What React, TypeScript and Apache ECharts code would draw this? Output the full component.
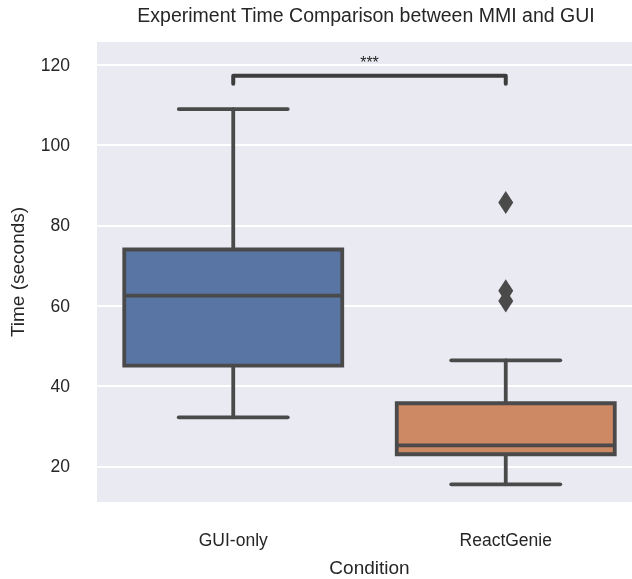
import React, { useEffect, useRef } from "react";
import * as echarts from "echarts";

const categories = ["GUI-only", "ReactGenie"];
// [min whisker, Q1, median, Q3, max whisker]
const boxStats = [
  [32.2, 45.1, 62.5, 74.0, 109.0],
  [15.5, 23.0, 25.2, 35.7, 46.4],
];
const boxColors = ["#5975a4", "#cc8963"];
const outlierCategory = [1, 1, 1];
const outlierValues = [85.7, 63.7, 61.2];
const yTicks = [20, 40, 60, 80, 100, 120];
const bracketY = 117.3;
const bracketTickY = 115.3;
const starsY = 120.6;
const starsText = "***";

const LINE = "#4a4a4a";
const FONT = "Liberation Sans, Arial, sans-serif";

export default function App() {
  const ref = useRef<HTMLDivElement>(null);
  useEffect(() => {
    if (!ref.current) return;
    const chart = echarts.init(ref.current, null, { renderer: "svg" });
    const boxData = boxStats.map((s, i) => [i, ...s, i]);
    chart.setOption({
      animation: false,
      textStyle: { fontFamily: FONT },
      graphic: [
        {
          type: "text",
          x: 366,
          y: 15,
          style: {
            text: "Experiment Time Comparison between MMI and GUI",
            fontSize: 19.5,
            fontFamily: FONT,
            fill: "#262626",
            textAlign: "center",
            textVerticalAlign: "middle",
          },
        },
      ],
      grid: {
        left: 97,
        top: 42,
        width: 545,
        height: 460,
        outerBoundsMode: "none",
        containLabel: false,
        show: true,
        backgroundColor: "#eaeaf2",
        borderWidth: 0,
      },
      xAxis: {
        type: "category",
        data: categories,
        boundaryGap: true,
        axisLine: { show: false },
        axisTick: { show: false },
        splitLine: { show: false },
        axisLabel: { fontSize: 17.5, color: "#262626", margin: 29, fontFamily: FONT },
        name: "Condition",
        nameLocation: "middle",
        nameGap: 56,
        nameTextStyle: { fontSize: 19, color: "#262626", fontFamily: FONT },
      },
      yAxis: {
        type: "value",
        min: 11.1,
        max: 125.7,
        axisLine: { show: false },
        axisTick: { show: false, customValues: yTicks },
        axisLabel: { fontSize: 17.5, color: "#262626", margin: 27, customValues: yTicks, fontFamily: FONT },
        splitLine: { show: true, lineStyle: { color: "#ffffff", width: 1.8 } },
        name: "Time (seconds)",
        nameLocation: "middle",
        nameGap: 70,
        nameTextStyle: { fontSize: 19, color: "#262626", fontFamily: FONT },
      },
      series: [
        {
          type: "custom",
          z: 5,
          data: boxData,
          renderItem: (params: any, api: any) => {
            const c = api.value(0);
            const mn = api.value(1), q1 = api.value(2), md = api.value(3), q3 = api.value(4), mx = api.value(5);
            const ci = api.value(6);
            const band = api.size([1, 0])[0];
            const bw = band * 0.8;
            const cw = bw * 0.5;
            const pMin = api.coord([c, mn]);
            const pQ1 = api.coord([c, q1]);
            const pMd = api.coord([c, md]);
            const pQ3 = api.coord([c, q3]);
            const pMx = api.coord([c, mx]);
            const x = pMd[0];
            const ls = { stroke: LINE, lineWidth: 3.8, lineCap: "round" };
            return {
              type: "group",
              children: [
                { type: "line", shape: { x1: x, y1: pQ1[1], x2: x, y2: pMin[1] }, style: ls },
                { type: "line", shape: { x1: x, y1: pQ3[1], x2: x, y2: pMx[1] }, style: ls },
                { type: "line", shape: { x1: x - cw / 2, y1: pMin[1], x2: x + cw / 2, y2: pMin[1] }, style: ls },
                { type: "line", shape: { x1: x - cw / 2, y1: pMx[1], x2: x + cw / 2, y2: pMx[1] }, style: ls },
                {
                  type: "rect",
                  shape: { x: x - bw / 2, y: pQ3[1], width: bw, height: pQ1[1] - pQ3[1] },
                  style: { fill: boxColors[ci], stroke: LINE, lineWidth: 3.8, lineJoin: "miter" },
                },
                { type: "line", shape: { x1: x - bw / 2, y1: pMd[1], x2: x + bw / 2, y2: pMd[1] }, style: { stroke: LINE, lineWidth: 3.8 } },
              ],
            };
          },
        },
        {
          type: "scatter",
          z: 6,
          symbol: "diamond",
          symbolSize: [15, 23],
          itemStyle: { color: LINE, opacity: 1 },
          data: outlierValues.map((v, i) => [outlierCategory[i], v]),
        },
        {
          type: "custom",
          z: 6,
          data: [[0, 1, bracketY, bracketTickY, starsY]],
          renderItem: (params: any, api: any) => {
            const a = api.coord([api.value(0), api.value(2)]);
            const b = api.coord([api.value(1), api.value(2)]);
            const at = api.coord([api.value(0), api.value(3)]);
            const s = api.coord([(api.value(0) + api.value(1)) / 2, api.value(4)]);
            return {
              type: "group",
              children: [
                {
                  type: "polyline",
                  shape: { points: [[a[0], at[1]], a, b, [b[0], at[1]]] },
                  style: { stroke: "#3d3d3d", lineWidth: 4, fill: "none", lineCap: "round", lineJoin: "round" },
                },
                {
                  type: "text",
                  x: (a[0] + b[0]) / 2,
                  y: s[1],
                  style: { text: starsText, fontSize: 16, fontFamily: FONT, fill: "#262626", textAlign: "center", textVerticalAlign: "middle" },
                },
              ],
            };
          },
        },
      ],
    });
    return () => chart.dispose();
  }, []);
  return <div ref={ref} style={{ position: "fixed", left: 0, top: 0, width: 632, height: 579 }} />;
}
